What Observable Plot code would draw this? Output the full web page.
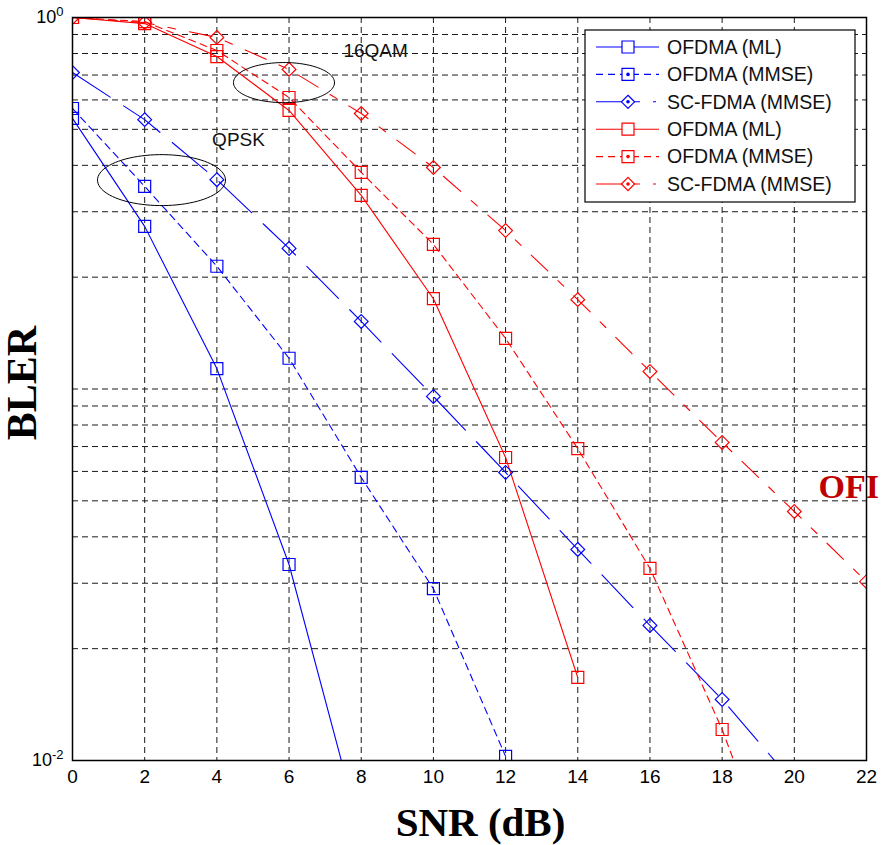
<!DOCTYPE html>
<html>
<head>
<meta charset="utf-8">
<script src="https://cdn.jsdelivr.net/npm/d3@7"></script>
<script src="https://cdn.jsdelivr.net/npm/@observablehq/plot@0.6"></script>
<style>
  html, body { margin: 0; padding: 0; background: #fff; }
  #chart { position: relative; width: 881px; height: 845px; }
</style>
</head>
<body>
<div id="chart"></div>
<script>
// ---- data ----
const snrTicks = [0, 2, 4, 6, 8, 10, 12, 14, 16, 18, 20, 22];
const blerGrid = [0.01, 0.02, 0.03, 0.04, 0.05, 0.06, 0.07, 0.08, 0.09,
                  0.1, 0.2, 0.3, 0.4, 0.5, 0.6, 0.7, 0.8, 0.9, 1];
const blerTickLabels = [0.01, 1];

const qpskOfdmaMLSnr   = [0, 2, 4, 6, 8];
const qpskOfdmaMLBler  = [0.535, 0.274, 0.1135, 0.0337, 0.0063];
const qpskOfdmaMMSESnr = [0, 2, 4, 6, 8, 10, 12];
const qpskOfdmaMMSEBler= [0.569, 0.351, 0.214, 0.121, 0.0578, 0.0290, 0.01026];
const qpskScMMSESnr    = [0, 2, 4, 6, 8, 10, 12, 14, 16, 18, 20];
const qpskScMMSEBler   = [0.711, 0.531, 0.366, 0.239, 0.152, 0.0955, 0.0596, 0.0370, 0.0231, 0.0146, 0.00867];
const qamOfdmaMLSnr    = [0, 2, 4, 6, 8, 10, 12, 14];
const qamOfdmaMLBler   = [1.0, 0.963, 0.785, 0.562, 0.332, 0.175, 0.0654, 0.01673];
const qamOfdmaMMSESnr  = [0, 2, 4, 6, 8, 10, 12, 14, 16, 18, 20];
const qamOfdmaMMSEBler = [1.0, 0.975, 0.815, 0.609, 0.383, 0.245, 0.1368, 0.0691, 0.0329, 0.01212, 0.00366];
const qamScMMSESnr     = [0, 2, 4, 6, 8, 10, 12, 14, 16, 18, 20, 22];
const qamScMMSEBler    = [1.0, 0.969, 0.884, 0.725, 0.5515, 0.3946, 0.267, 0.174, 0.1115, 0.0718, 0.0468, 0.0303];

const seriesNames  = ["OFDMA (ML)", "OFDMA (MMSE)", "SC-FDMA (MMSE)", "OFDMA (ML)", "OFDMA (MMSE)", "SC-FDMA (MMSE)"];
const seriesColors = ["#0000ff", "#0000ff", "#0000ff", "#ff0000", "#ff0000", "#ff0000"];
const seriesDashes = [null, "7,5", "45,16", null, "7,5", "23,14,8,14"];
const seriesSymbols= ["square", "square", "diamond2", "square", "square", "diamond2"];
const legendDashes = [null, "7,5", "44,13,3,30", null, "7,5", "44,13,3,30"];
const legendDotted = [false, true, true, false, true, true];

// annotations: ellipse centre (snr, bler), half-width in dB, half-height in decades
const ellipseLabels = ["16QAM", "QPSK"];
const ellipseCx = [5.86, 2.466];
const ellipseCy = [0.668, 0.365];
const ellipseRx = [1.40, 1.773];
const ellipseRy = [0.054, 0.0686];
const annotText = ["16QAM", "QPSK"];
const annotX = [8.40, 4.60];
const annotY = [0.815, 0.467];
const cutLabel = "OFI";
const cutLabelX = 20.67;
const cutLabelY = 0.0545;

// ---- build tables ----
const xs = [qpskOfdmaMLSnr, qpskOfdmaMMSESnr, qpskScMMSESnr, qamOfdmaMLSnr, qamOfdmaMMSESnr, qamScMMSESnr];
const ys = [qpskOfdmaMLBler, qpskOfdmaMMSEBler, qpskScMMSEBler, qamOfdmaMLBler, qamOfdmaMMSEBler, qamScMMSEBler];
const series = xs.map((xv, i) => xv.map((x, j) => ({x, y: ys[i][j], s: i})));

const ellipsePts = [];
ellipseLabels.forEach((id, k) => {
  const n = 90;
  for (let i = 0; i <= n; i++) {
    const t = 2 * Math.PI * i / n;
    ellipsePts.push({
      id,
      x: ellipseCx[k] + ellipseRx[k] * Math.cos(t),
      y: Math.pow(10, Math.log10(ellipseCy[k]) + ellipseRy[k] * Math.sin(t))
    });
  }
});
const annots = annotText.map((t, i) => ({t, x: annotX[i], y: annotY[i]}));

const gridStyle = {stroke: "#1a1a1a", strokeOpacity: 1, strokeWidth: 1, strokeDasharray: "6,4"};
const serif = "Liberation Serif, Times New Roman, serif";

const marks = [
  Plot.gridX(snrTicks, gridStyle),
  Plot.gridY(blerGrid, gridStyle),
];
series.forEach((d, i) => {
  marks.push(Plot.line(d, {x: "x", y: "y", stroke: seriesColors[i], strokeWidth: 1.1,
    strokeDasharray: seriesDashes[i] || undefined, clip: true}));
});
series.forEach((d, i) => {
  const sq = seriesSymbols[i] === "square";
  marks.push(Plot.dot(d, {x: "x", y: "y", symbol: seriesSymbols[i], r: sq ? 6.77 : 6.2,
    stroke: seriesColors[i], strokeWidth: 1.2, fill: "none", clip: true}));
});
marks.push(
  Plot.line(ellipsePts, {x: "x", y: "y", z: "id", stroke: "#000", strokeWidth: 1}),
  Plot.text(annots, {x: "x", y: "y", text: "t", fontSize: 19, fill: "#111"}),
  Plot.text([cutLabel], {x: () => cutLabelX, y: () => cutLabelY, text: d => d, textAnchor: "start",
    fontSize: 34, fontWeight: "bold", fontFamily: serif, fill: "#c00000"}),
  Plot.axisX({ticks: snrTicks, tickSize: 0, tickPadding: 9, fontSize: 19, label: null}),
  Plot.axisY({ticks: blerTickLabels, tickSize: 0, tickPadding: 9, fontSize: 18, label: null,
    tickFormat: d => String(Math.round(Math.log10(d)))}),
  Plot.frame({stroke: "#000", strokeWidth: 1.5}),
  Plot.text(["SNR (dB)"], {frameAnchor: "bottom", text: d => d, dx: 11, dy: 62, fontSize: 41,
    lineAnchor: "middle", textAnchor: "middle",
    fontWeight: "bold", fontFamily: serif, fill: "#000"}),
  Plot.text(["BLER"], {frameAnchor: "left", text: d => d, dx: -50, dy: -6, rotate: -90, fontSize: 42,
    lineAnchor: "middle", textAnchor: "middle",
    fontWeight: "bold", fontFamily: serif, fill: "#000"})
);

const svg = Plot.plot({
  width: 881, height: 845,
  marginLeft: 72, marginRight: 15, marginTop: 17, marginBottom: 85,
  x: {domain: [0, 22]},
  y: {type: "log", domain: [0.01, 1]},
  style: {fontFamily: "Liberation Sans, Arial, sans-serif", background: "#fff", color: "#000", overflow: "visible"},
  marks
});
document.getElementById("chart").appendChild(svg);

// superscript powers of ten on the y tick labels
d3.select(svg).selectAll('g[aria-label="y-axis tick label"] text').each(function() {
  const p = this.textContent;
  const t = d3.select(this);
  t.text(null);
  t.append("tspan").text("10");
  t.append("tspan").attr("dy", "-0.55em").attr("font-size", "0.72em").text(p);
});

// legend box drawn into the same svg
const lg = d3.select(svg).append("g")
  .attr("font-family", "Liberation Sans, Arial, sans-serif")
  .attr("text-anchor", "start");
const box = {x0: 585, y0: 30, x1: 855, y1: 202};
lg.append("rect").attr("x", box.x0).attr("y", box.y0).attr("width", box.x1 - box.x0).attr("height", box.y1 - box.y0)
  .attr("fill", "#fff").attr("stroke", "#000").attr("stroke-width", 1.2);
seriesNames.forEach((name, i) => {
  const y = 47 + i * 27.4;
  lg.append("line").attr("x1", 596).attr("x2", 659).attr("y1", y).attr("y2", y)
    .attr("stroke", seriesColors[i]).attr("stroke-width", 1.1)
    .attr("stroke-dasharray", legendDashes[i]);
  const sq = seriesSymbols[i] === "square";
  lg.append("path").attr("transform", `translate(628,${y})`)
    .attr("d", d3.symbol(sq ? d3.symbolSquare : d3.symbolDiamond2, sq ? 144 : 110)())
    .attr("fill", "#fff").attr("stroke", seriesColors[i]).attr("stroke-width", 1.2);
  if (legendDotted[i]) {
    lg.append("circle").attr("cx", 628).attr("cy", y).attr("r", 1.8).attr("fill", seriesColors[i]);
  }
  lg.append("text").attr("x", 667).attr("y", y).attr("dy", "0.35em").attr("font-size", 19.5)
    .attr("text-anchor", "start").attr("fill", "#111").text(name);
});
</script>
</body>
</html>
